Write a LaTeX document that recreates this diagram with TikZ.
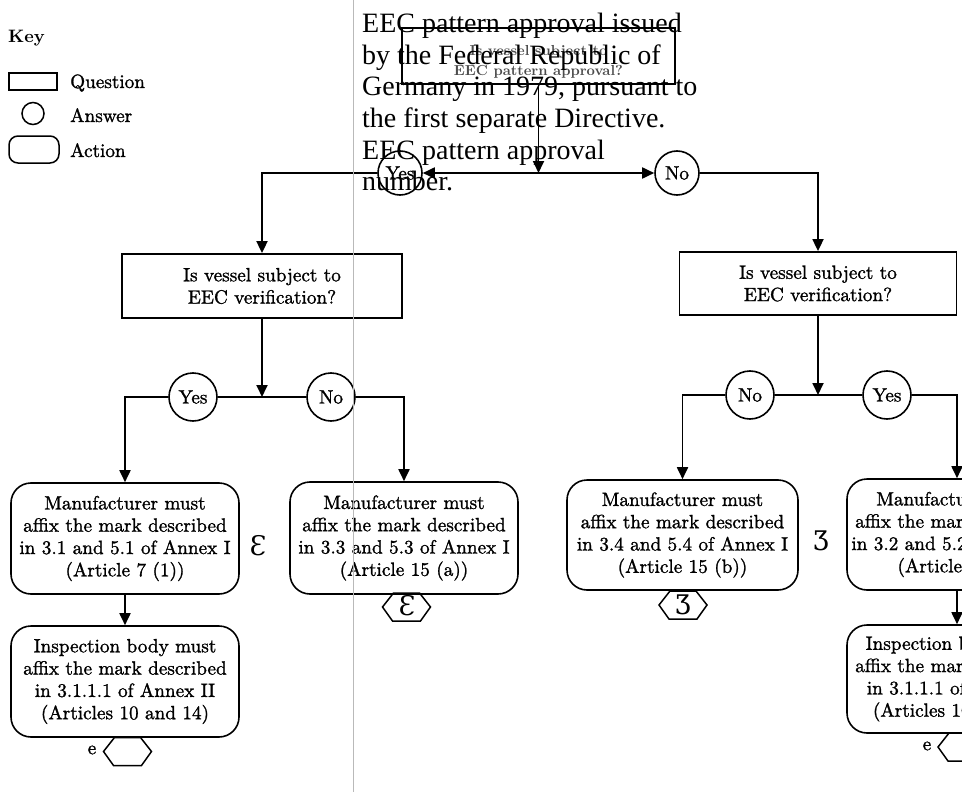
\documentclass[tikz,border=0pt]{standalone}
\usepackage{fontspec}
\newfontfamily\overlayfont{Liberation Serif}
\newfontfamily\symfont{DejaVu Serif}
\newfontfamily\flowrm{lmroman10-regular}[Extension=.otf, FakeBold=1.3]
\newfontfamily\flowbf{lmroman10-bold}[Extension=.otf]
\usetikzlibrary{arrows.meta}
\newcommand\flowfont{\flowrm\fontsize{19.2}{22.3}\selectfont}
\begin{document}
\begin{tikzpicture}[x=1pt,y=-1pt,
  every node/.style={inner sep=0pt},
  conn/.style={line width=1.8pt},
  arr/.style={conn,-{Triangle[length=12pt,width=11pt]}},
  qbox/.style={draw, line width=1.8pt, align=center, font=\flowfont},
  abox/.style={draw, line width=1.6pt, rounded corners=20pt, align=center, font=\flowfont},
  ans/.style={draw, circle, line width=1.6pt, minimum size=48pt, font=\flowfont},
  keytext/.style={anchor=base west, font=\flowfont},
  symb/.style={font=\symfont\fontsize{27}{30}\selectfont},
  hexa/.pic={\draw[line width=1.5pt] (-24,0) -- (-13,-14) -- (13,-14) -- (24,0) -- (14,14) -- (-14,14) -- cycle;}
]
\useasboundingbox (0,0) rectangle (962,792);
\clip (0,0) rectangle (962,792);

% key
\node[anchor=base west, font=\flowbf\fontsize{18}{20}\selectfont] (keyt) at (8,43) {Key};
\node[draw, line width=1.5pt, minimum width=48pt, minimum height=17pt] (keyq) at (33,81.5) {};
\node[keytext] (keyql) at (70,88) {Question};
\node[draw, circle, line width=1.5pt, minimum size=22pt] (keya) at (33,113.5) {};
\node[keytext] (keyal) at (70,122) {Answer};
\node[draw, line width=1.5pt, rounded corners=9pt, minimum width=50pt, minimum height=27pt] (keyc) at (34,149.5) {};
\node[keytext] (keycl) at (70,157) {Action};

% top question
\node[draw, line width=1.8pt, minimum width=273pt, minimum height=56pt] (q0) at (538.5,56) {};
\node[align=center, font=\flowbf\fontsize{14.5}{20}\selectfont, text=black!70] (q0t) at (538.5,62) {Is vessel subject to\\EEC pattern approval?};
\node[ans, minimum size=44pt] (y0) at (400,173) {Yes};
\node[ans, minimum size=44pt] (n0) at (677,173) {No};
\coordinate (j0) at (q0.south |- y0);
\draw[arr] (q0.south) -- (j0);
\draw[arr] (j0) -- (y0);
\draw[arr] (j0) -- (n0);

% second level questions
\node[qbox, minimum width=280pt, minimum height=64pt] (q1) at (262,286) {Is vessel subject to\\EEC verification?};
\node[qbox, minimum width=277pt, minimum height=63pt] (q2) at (818,283.5) {Is vessel subject to\\EEC verification?};
\draw[arr] (y0) -| (q1);
\draw[arr] (n0) -| (q2);

% answers level 2
\node[ans] (y1) at (193,397) {Yes};
\node[ans] (n1) at (331,397) {No};
\coordinate (j1) at (q1.south |- y1);
\draw[arr] (q1) -- (j1);
\draw[conn] (j1) -- (y1);
\draw[conn] (j1) -- (n1);

\node[ans] (n2) at (750,395) {No};
\node[ans] (y2) at (887,395) {Yes};
\coordinate (j2) at (q2.south |- n2);
\draw[arr] (q2) -- (j2);
\draw[conn] (j2) -- (n2);
\draw[conn] (j2) -- (y2);

% actions
\node[abox, minimum width=228pt, minimum height=111pt] (a1) at (125,538.5) {Manufacturer must\\affix the mark described\\in 3.1 and 5.1 of Annex I\\(Article 7 (1))};
\node[abox, minimum width=228pt, minimum height=112pt] (a2) at (404,538) {Manufacturer must\\affix the mark described\\in 3.3 and 5.3 of Annex I\\(Article 15 (a))};
\node[abox, minimum width=231pt, minimum height=110pt] (a3) at (682.5,535) {Manufacturer must\\affix the mark described\\in 3.4 and 5.4 of Annex I\\(Article 15 (b))};
\node[abox, minimum width=220pt, minimum height=111pt] (a4) at (957,534.5) {Manufacturer must\\affix the mark described\\in 3.2 and 5.2 of Annex I\\(Article 7 (1))};
\draw[arr] (y1) -| (a1);
\draw[arr] (n1) -| (a2);
\draw[arr] (n2) -| (a3);
\draw[arr] (y2) -| (a4);

\node[abox, minimum width=228pt, minimum height=111pt] (i1) at (125,681.5) {Inspection body must\\affix the mark described\\in 3.1.1.1 of Annex II\\(Articles 10 and 14)};
\node[abox, minimum width=220pt, minimum height=108pt] (i2) at (957,679) {Inspection body must\\affix the mark described\\in 3.1.1.1 of Annex II\\(Articles 10 and 14)};
\draw[arr] (a1) -- (i1);
\draw[arr] (a4) -- (i2);

% side symbols
\node[symb] (s1) at (258,546) {Ɛ};
\node[symb] (s2) at (821,541) {Ʒ};

% hexagons
\pic at (127.5,751.5) {hexa};
\node[anchor=center, font=\flowfont] (e1) at (92,750) {e};
\pic at (406.5,607) {hexa};
\node[symb] (h2) at (407,606) {Ɛ};
\pic at (683,605) {hexa};
\node[symb] (h3) at (683,605) {Ʒ};
\pic at (962,747) {hexa};
\node[anchor=center, font=\flowfont] (e2) at (927,746) {e};

% overlay
\draw[gray!55, line width=0.9pt] (353,0) -- (353,792);
\node[anchor=north west, align=left, font=\overlayfont\fontsize{28}{31.6}\selectfont] (ov) at (362,13) {EEC pattern approval issued\\by the Federal Republic of\\Germany in 1979, pursuant to\\the first separate Directive.\\EEC pattern approval\\number.};
\end{tikzpicture}
\end{document}
